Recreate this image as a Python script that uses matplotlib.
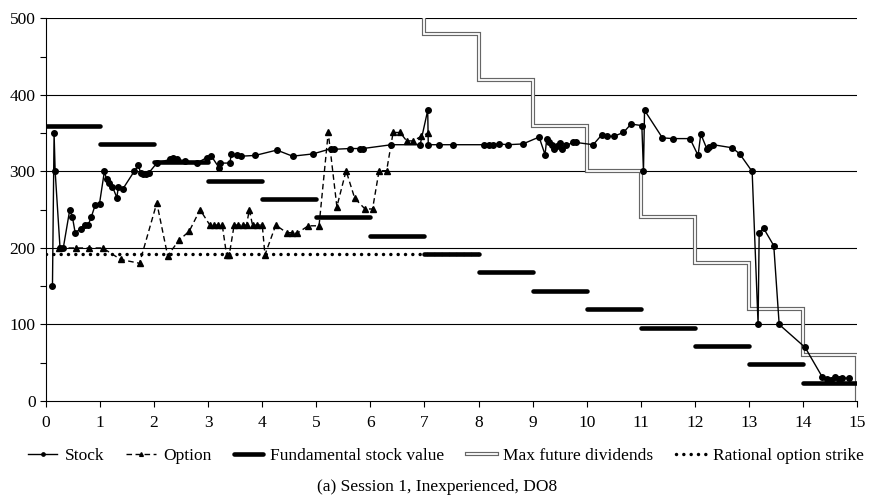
import matplotlib
matplotlib.use('Agg')
import matplotlib.pyplot as plt
from matplotlib.ticker import MultipleLocator
import numpy as np

plt.rcParams['font.family'] = ['Liberation Serif', 'DejaVu Serif']

# Stock trades (period time, price)
stock_t = [0.12, 0.15, 0.17, 0.26, 0.32, 0.44, 0.49, 0.54, 0.64, 0.73, 0.78, 0.84, 0.91, 0.99,
           1.08, 1.12, 1.165, 1.23, 1.31, 1.34, 1.42, 1.63, 1.71, 1.75, 1.8, 1.85, 1.9,
           2.05, 2.3, 2.35, 2.42, 2.57, 2.79, 2.97, 3.06, 3.2, 3.22, 3.4, 3.43, 3.53, 3.61, 3.87,
           4.27, 4.56, 4.94, 5.28, 5.32, 5.62, 5.81, 5.86, 6.39, 6.92, 7.06, 7.07, 7.27, 7.52,
           8.1, 8.2, 8.27, 8.38, 8.54, 8.82, 9.12, 9.23, 9.26, 9.3, 9.35, 9.4, 9.45, 9.5, 9.54,
           9.62, 9.75, 9.8, 10.12, 10.28, 10.37, 10.5, 10.68, 10.82, 11.02, 11.05, 11.07, 11.4,
           11.59, 11.91, 12.06, 12.11, 12.22, 12.27, 12.34, 12.69, 12.83, 13.06, 13.17, 13.19,
           13.27, 13.46, 13.56, 14.04, 14.36, 14.44, 14.52, 14.59, 14.67, 14.73, 14.85]
stock_p = [150, 350, 300, 200, 200, 250, 240, 220, 225, 230, 230, 241, 256, 258,
           300, 290, 285, 280, 266, 280, 277, 300, 308, 298, 297, 297, 298,
           311, 316, 318, 316, 314, 311, 318, 320, 305, 311, 311, 323, 321, 320, 321,
           328, 320, 323, 330, 329, 330, 330, 330, 335, 335, 380, 335, 335, 335,
           335, 334, 335, 336, 335, 336, 345, 322, 342, 338, 335, 330, 333, 337, 330,
           334, 338, 338, 335, 348, 346, 346, 351, 362, 360, 300, 380, 344,
           343, 343, 321, 349, 330, 332, 335, 331, 323, 300, 100, 220,
           226, 203, 100, 70, 31, 29, 28, 31, 29, 30, 30]

# Option trades
option_t = [0.25, 0.55, 0.8, 1.05, 1.38, 1.73, 2.05, 2.25, 2.46, 2.65, 2.85, 3.03, 3.1, 3.18,
            3.26, 3.34, 3.39, 3.48, 3.56, 3.64, 3.71, 3.76, 3.82, 3.91, 4.0, 4.05, 4.25, 4.45,
            4.55, 4.64, 4.85, 5.05, 5.22, 5.38, 5.55, 5.71, 5.9, 6.04, 6.16, 6.3, 6.42, 6.55,
            6.67, 6.79, 6.94, 7.06]
option_p = [200, 200, 200, 200, 185, 180, 259, 190, 210, 222, 250, 230, 230, 230,
            230, 191, 191, 230, 230, 230, 230, 250, 230, 230, 230, 191, 230, 220,
            220, 219, 229, 229, 351, 254, 301, 265, 251, 251, 301, 301, 351, 351,
            340, 340, 346, 350]

periods = list(range(15))
fundamental = [360, 336, 312, 288, 264, 240, 216, 192, 168, 144, 120, 96, 72, 48, 24]
max_div = [900, 840, 780, 720, 660, 600, 540, 480, 420, 360, 300, 240, 180, 120, 60]
strike = 192
strike_end = 8

fig = plt.figure(figsize=(8.74, 5.04), dpi=100)
ax = fig.add_axes([0.0526, 0.2044, 0.928, 0.7589])

for y in [100, 200, 300, 400, 500]:
    ax.axhline(y, color='black', lw=0.8, zorder=1)

# max future dividends as a double line
md_x = []
md_y = []
for k, v in zip(periods, max_div):
    md_x += [k, k + 1]
    md_y += [v, v]
md_x.append(15)
md_y.append(0)
md_outer, = ax.plot(md_x, md_y, color='#666666', lw=3.0, solid_joinstyle='miter', zorder=2)
md_inner, = ax.plot(md_x, md_y, color='white', lw=1.3, solid_joinstyle='miter', zorder=2.1)

# fundamental value segments
for k, v in zip(periods, fundamental):
    fv, = ax.plot([k, k + 1], [v, v], color='black', lw=3.3, solid_capstyle='round', zorder=3)

rs, = ax.plot([0, strike_end], [strike, strike], color='black', lw=2.5,
              linestyle=(0, (0.01, 2.1)), dash_capstyle='round', zorder=3)

st, = ax.plot(stock_t, stock_p, color='black', lw=1, marker='o', markersize=4, zorder=5)
op, = ax.plot(option_t, option_p, color='black', lw=1, linestyle=(0, (4, 2.5)),
              marker='^', markersize=4.5, zorder=4)

ax.set_xlim(0, 15)
ax.set_ylim(0, 500)
ax.xaxis.set_major_locator(MultipleLocator(1))
ax.yaxis.set_major_locator(MultipleLocator(100))
ax.yaxis.set_minor_locator(MultipleLocator(50))
ax.tick_params(axis='both', which='both', direction='out', length=4, width=0.8, labelsize=12.5)
ax.tick_params(axis='x', pad=6)
ax.spines['top'].set_visible(False)
ax.spines['right'].set_visible(False)

leg = fig.legend([st, op, fv, (md_outer, md_inner), rs],
                 ['Stock', 'Option', 'Fundamental stock value', 'Max future dividends',
                  'Rational option strike'],
                 loc='center', bbox_to_anchor=(0.51, 0.096), ncol=5, frameon=False,
                 fontsize=12.5, handlelength=1.7, columnspacing=1.3, handletextpad=0.4,
                 markerscale=0.6)

fig.text(0.5, 0.034, '(a) Session 1, Inexperienced, DO8', ha='center', va='center', fontsize=12.5)

fig.savefig('out.png', dpi=100)
